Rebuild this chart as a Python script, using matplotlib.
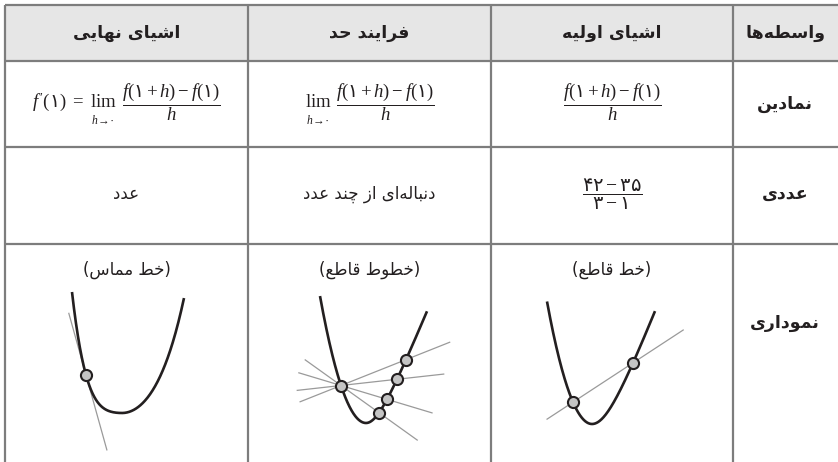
import matplotlib
matplotlib.use("Agg")
import matplotlib.pyplot as plt
from matplotlib.patches import Rectangle
import numpy as np

plt.rcParams['mathtext.fontset'] = 'custom'
plt.rcParams['mathtext.rm'] = 'Liberation Serif'
plt.rcParams['mathtext.it'] = 'Liberation Serif:italic'
plt.rcParams['mathtext.sf'] = 'DejaVu Sans'
plt.rcParams['mathtext.bf'] = 'DejaVu Sans:bold'
plt.rcParams['mathtext.fallback'] = 'stix'

# ---------------- data (logical Persian text) ----------------
header_labels = ["اشیای نهایی", "فرایند حد", "اشیای اولیه", "واسطه‌ها"]
row_labels = ["نمادین", "عددی", "نموداری"]
derivative_lhs = r"$f\,^{\prime}(\mathsf{۱})\ =$"
limit_word = r"$\mathrm{lim}$"
limit_sub = r"$h\!\to\!\mathsf{۰}$"
difference_quotient = r"$\dfrac{f(\mathsf{۱}+h)-f(\mathsf{۱})}{h}$"
numeric_text = ["عدد", "دنباله‌ای از چند عدد"]
numeric_fraction = r"$\dfrac{\mathsf{۴۲}-\mathsf{۳۵}}{\mathsf{۳}-\mathsf{۱}}$"
graph_captions = ["(خط مماس)", "(خطوط قاطع)", "(خط قاطع)"]

# curve shapes, local units (u right, v up from the vertex):
# v = a*u^2 + b*u^4 + k*(sqrt(u^2+s^2)-s), separate for left / right branch
tangent_left = dict(a=0.00878, b=1.585e-5, k=0.0, s=1.0)
tangent_right = dict(a=0.02233, b=1.97e-6, k=0.0, s=1.0)
tangent_range = (-50, 62)
tangent_point_u = -36

secants_left = dict(a=0.06, b=0.0, k=0.0, s=1.0)
secants_right = dict(a=0.0, b=0.0, k=2.45, s=18.0)
secants_range = (-46, 61)
secants_fixed_u = -25
secants_moving_u = [40, 31, 21, 13]

secant_left = dict(a=0.0605, b=0.0, k=0.0, s=1.0)
secant_right = dict(a=0.0, b=0.0, k=2.6, s=24.0)
secant_range = (-45, 63)
secant_points_u = [-19, 41]

# ---------------- Persian shaping helper ----------------
DUAL = {
    'ب': (0xFE8F, 0xFE90, 0xFE91, 0xFE92), 'چ': (0xFB7A, 0xFB7B, 0xFB7C, 0xFB7D),
    'ح': (0xFEA1, 0xFEA2, 0xFEA3, 0xFEA4), 'خ': (0xFEA5, 0xFEA6, 0xFEA7, 0xFEA8),
    'س': (0xFEB1, 0xFEB2, 0xFEB3, 0xFEB4), 'ش': (0xFEB5, 0xFEB6, 0xFEB7, 0xFEB8),
    'ط': (0xFEC1, 0xFEC2, 0xFEC3, 0xFEC4), 'ع': (0xFEC9, 0xFECA, 0xFECB, 0xFECC),
    'ف': (0xFED1, 0xFED2, 0xFED3, 0xFED4), 'ق': (0xFED5, 0xFED6, 0xFED7, 0xFED8),
    'ل': (0xFEDD, 0xFEDE, 0xFEDF, 0xFEE0), 'م': (0xFEE1, 0xFEE2, 0xFEE3, 0xFEE4),
    'ن': (0xFEE5, 0xFEE6, 0xFEE7, 0xFEE8), 'ه': (0xFEE9, 0xFEEA, 0xFEEB, 0xFEEC),
    'ی': (0xFBFC, 0xFBFD, 0xFBFE, 0xFBFF),
}
RIGHT = {'ا': (0xFE8D, 0xFE8E), 'د': (0xFEA9, 0xFEAA), 'ر': (0xFEAD, 0xFEAE),
         'ز': (0xFEAF, 0xFEB0), 'و': (0xFEED, 0xFEEE)}


def fa(s):
    out = []
    for i, c in enumerate(s):
        prev = s[i - 1] if i > 0 else ''
        nxt = s[i + 1] if i + 1 < len(s) else ''
        p = prev in DUAL
        if c in DUAL:
            n = (nxt in DUAL) or (nxt in RIGHT)
            f = DUAL[c]
            out.append(chr(f[3] if (p and n) else f[1] if p else f[2] if n else f[0]))
        elif c in RIGHT:
            f = RIGHT[c]
            out.append(chr(f[1] if p else f[0]))
        elif c == '\u200c':
            continue
        else:
            out.append(c)
    mirror = {'(': ')', ')': '('}
    return ''.join(mirror.get(c, c) for c in reversed(out))


def curve_v(u, left, right):
    u = np.asarray(u, dtype=float)
    res = np.empty_like(u)
    for mask, p in ((u < 0, left), (u >= 0, right)):
        uu = u[mask]
        res[mask] = (p['a'] * uu ** 2 + p['b'] * uu ** 4
                     + p['k'] * (np.sqrt(uu ** 2 + p['s'] ** 2) - p['s']))
    return res


def curve_dv(u, left, right):
    p = left if u < 0 else right
    return 2 * p['a'] * u + 4 * p['b'] * u ** 3 + p['k'] * u / np.sqrt(u ** 2 + p['s'] ** 2)


# ---------------- layout ----------------
W, H = 838, 462
fig = plt.figure(figsize=(W / 100, H / 100), dpi=100)
ax = fig.add_axes([0, 0, 1, 1])
ax.set_xlim(0, W)
ax.set_ylim(H, 0)
ax.axis('off')
renderer = fig.canvas.get_renderer()

col_x = [5, 248, 491, 733, 838]
row_y = [5, 61, 147, 244, 462]
line_col = '#7d7d7d'
txt_col = '#231f20'

ax.add_patch(Rectangle((col_x[0], row_y[0]), col_x[-1] - col_x[0], row_y[1] - row_y[0],
                       facecolor='#e6e6e6', edgecolor='none', zorder=0))
for y in row_y[:4]:
    ax.plot([col_x[0], col_x[-1]], [y, y], color=line_col, lw=1.6, solid_capstyle='butt')
for x in col_x[:4]:
    ax.plot([x, x], [row_y[0], row_y[-1]], color=line_col, lw=1.6, solid_capstyle='butt')

cx = [(col_x[i] + col_x[i + 1]) / 2 for i in range(4)]
cx[3] = 785

arfont = 'DejaVu Sans'
for i, lab in enumerate(header_labels):
    ax.text(cx[i], 33, fa(lab), ha='center', va='center', fontsize=12.5,
            fontweight='bold', family=arfont, color=txt_col)

row_label_y = [104, 194, 323]
for lab, y in zip(row_labels, row_label_y):
    ax.text(cx[3], y, fa(lab), ha='center', va='center', fontsize=12.5,
            fontweight='bold', family=arfont, color=txt_col)


# ---- symbolic row: horizontally laid-out groups of math pieces ----
MATH_FS = 13.5
BASE_Y = 107          # baseline of lim / lhs
FRAC_Y = 102.5        # centre of fraction
SUB_Y = 124           # baseline of lim subscript


def width(t):
    bb = t.get_window_extent(renderer)
    return bb.width


def math_group(xc, with_lhs, with_lim):
    items = []   # (list of artists, width, gap after)
    if with_lhs:
        t = ax.text(0, BASE_Y, derivative_lhs, ha='left', va='baseline',
                    fontsize=MATH_FS, color=txt_col)
        items.append(([t], width(t), 5))
    if with_lim:
        t1 = ax.text(0, BASE_Y, limit_word, ha='center', va='baseline',
                     fontsize=MATH_FS, color=txt_col)
        t2 = ax.text(0, SUB_Y, limit_sub, ha='center', va='baseline',
                     fontsize=MATH_FS * 0.62, color=txt_col)
        items.append(([t1, t2], max(width(t1), width(t2)), 5))
    t = ax.text(0, FRAC_Y, difference_quotient, ha='center', va='center',
                fontsize=MATH_FS, color=txt_col)
    items.append(([t], width(t), 0))
    total = sum(w for _, w, _ in items) + sum(g for _, _, g in items[:-1])
    x = xc - total / 2
    for arts, w, g in items:
        for a in arts:
            if a.get_ha() == 'left':
                a.set_x(x)
            else:
                a.set_x(x + w / 2)
        x += w + g


math_group(126.5, True, True)
math_group(370, False, True)
math_group(612, False, False)

for x, s in zip(cx[:2], numeric_text):
    ax.text(x, 194, fa(s), ha='center', va='center', fontsize=12, family=arfont, color=txt_col)
ax.text(cx[2], 194, numeric_fraction, ha='center', va='center', fontsize=14, color=txt_col)

for x, s in zip(cx[:3], graph_captions):
    ax.text(x, 270, fa(s), ha='center', va='center', fontsize=12, family=arfont, color=txt_col)


# ---------------- graphs ----------------
def graph_axes(x0, x1, y0, y1, vx, vy):
    g = fig.add_axes([x0 / W, 1 - y1 / H, (x1 - x0) / W, (y1 - y0) / H])
    g.set_xlim(x0 - vx, x1 - vx)
    g.set_ylim(vy - y1, vy - y0)
    g.axis('off')
    g.patch.set_alpha(0)
    return g


curve_kw = dict(color=txt_col, lw=1.9, solid_capstyle='butt', zorder=3)
line_kw = dict(color='#9a9a9a', lw=0.9, zorder=2)
pt_kw = dict(marker='o', ms=8, mfc='#c4c4c4', mec=txt_col, mew=1.5, ls='none', zorder=4)


def draw_curve(g, rng, left, right):
    u = np.linspace(rng[0], rng[1], 400)
    g.plot(u, curve_v(u, left, right), **curve_kw)


def seg(g, p0, p1, ext0, ext1):
    d = np.array(p1) - np.array(p0)
    d = d / np.hypot(*d)
    a = np.array(p0) - ext0 * d
    b = np.array(p1) + ext1 * d
    g.plot([a[0], b[0]], [a[1], b[1]], **line_kw)


# graph 1 : tangent line
g1 = graph_axes(5, 248, 280, 462, 122, 413)
draw_curve(g1, tangent_range, tangent_left, tangent_right)
pu = tangent_point_u
pv = curve_v([pu], tangent_left, tangent_right)[0]
slope = curve_dv(pu, tangent_left, tangent_right)
seg(g1, (pu, pv), (pu + 1, pv + slope), 64, 74)
g1.plot([pu], [pv], **pt_kw)

# graph 2 : several secant lines
g2 = graph_axes(248, 491, 280, 462, 366, 423)
draw_curve(g2, secants_range, secants_left, secants_right)
fv = curve_v([secants_fixed_u], secants_left, secants_right)[0]
mv = curve_v(secants_moving_u, secants_left, secants_right)
for u, v in zip(secants_moving_u, mv):
    seg(g2, (secants_fixed_u, fv), (u, v), 44, 47)
g2.plot([secants_fixed_u], [fv], **pt_kw)
g2.plot(secants_moving_u, mv, **pt_kw)

# graph 3 : one secant line
g3 = graph_axes(491, 733, 280, 462, 592, 424)
draw_curve(g3, secant_range, secant_left, secant_right)
sv = curve_v(secant_points_u, secant_left, secant_right)
seg(g3, (secant_points_u[0], sv[0]), (secant_points_u[1], sv[1]), 31, 60)
g3.plot(secant_points_u, sv, **pt_kw)

fig.savefig('out.png', dpi=100)
